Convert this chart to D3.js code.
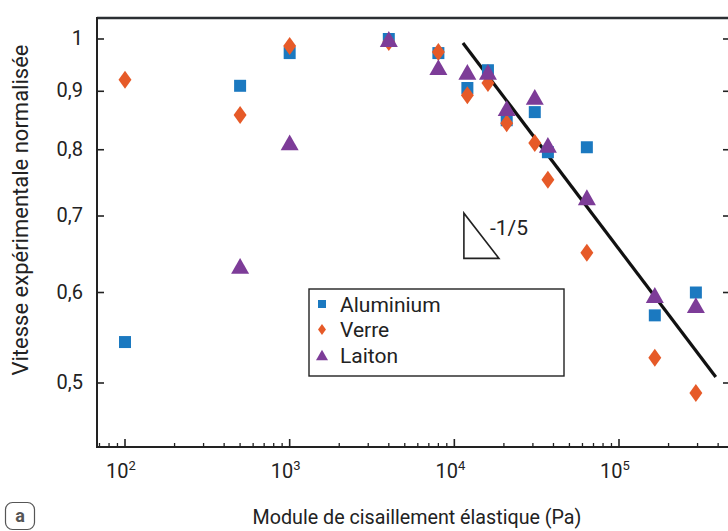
<!DOCTYPE html>
<html>
<head>
<meta charset="utf-8">
<script src="https://cdn.jsdelivr.net/npm/d3@7"></script>
<style>
  body { margin: 0; background: #fff; }
  text { font-family: Roboto, "Noto Sans", sans-serif; fill: #222; }
</style>
</head>
<body>
<svg id="chart" width="728" height="531"></svg>
<script>
"use strict";

// data (x: shear modulus in Pa, y: normalised velocity)
var aluX = [100, 500, 1000, 4000, 8000, 12000, 16000, 20800, 30800, 37000, 63800, 165000, 293000];
var aluY = [0.543, 0.910, 0.972, 1.0, 0.972, 0.906, 0.939, 0.849, 0.863, 0.796, 0.804, 0.573, 0.600];

var verX = [100, 500, 1000, 4000, 8000, 12000, 16000, 20800, 30800, 37000, 63800, 165000, 293000];
var verY = [0.921, 0.858, 0.986, 0.994, 0.974, 0.893, 0.915, 0.844, 0.811, 0.753, 0.650, 0.526, 0.490];

var laiX = [500, 1000, 4000, 8000, 12000, 16000, 20800, 30800, 37000, 63800, 165000, 293000];
var laiY = [0.633, 0.812, 1.0, 0.945, 0.936, 0.936, 0.870, 0.890, 0.808, 0.727, 0.597, 0.585];

// -1/5 power-law guide
var fitX = [11280, 387000];
var fitY = [0.992, 0.506];

// slope triangle (data space)
var slopeX = [11430, 11430, 18660];
var slopeY = [0.704, 0.6427, 0.6427];

var seriesNames = ["Aluminium", "Verre", "Laiton"];
var seriesColors = ["#1b79c0", "#e65a28", "#7d3c98"];
var xMajor = [1e2, 1e3, 1e4, 1e5];
var yTicks = [0.5, 0.6, 0.7, 0.8, 0.9, 1];
var yTickLabels = ["0,5", "0,6", "0,7", "0,8", "0,9", "1"];

var svg = d3.select("#chart");

var plotLeft = 97, plotRight = 729, plotTop = 18, plotBottom = 447;

var x = d3.scaleLog().domain([67.6, 465600]).range([plotLeft, plotRight]);
var y = d3.scaleLog().domain([0.4395, 1.0432]).range([plotBottom, plotTop]);

// marker shapes
function shape(kind, s) {
  if (kind == "square") {
    var h = s / 2;
    return "M" + (-h) + "," + (-h) + "H" + h + "V" + h + "H" + (-h) + "Z";
  }
  if (kind == "diamond") {
    var w = s * 0.36, t = s * 0.5;
    return "M0," + (-t) + "L" + w + ",0L0," + t + "L" + (-w) + ",0Z";
  }
  var hw = s / 2, hh = s * 0.44;
  return "M0," + (-hh) + "L" + hw + "," + hh + "L" + (-hw) + "," + hh + "Z";
}

var series = [
  { name: seriesNames[0], xs: aluX, ys: aluY, kind: "square", size: 12, color: seriesColors[0] },
  { name: seriesNames[1], xs: verX, ys: verY, kind: "diamond", size: 18, color: seriesColors[1] },
  { name: seriesNames[2], xs: laiX, ys: laiY, kind: "triangle", size: 18, color: seriesColors[2] }
];

// frame
svg.append("line").attr("x1", plotLeft).attr("x2", 728).attr("y1", plotTop).attr("y2", plotTop)
  .attr("stroke", "#2b2f33").attr("stroke-width", 2.5);
svg.append("line").attr("x1", plotLeft).attr("x2", plotLeft).attr("y1", plotTop - 1).attr("y2", plotBottom)
  .attr("stroke", "#222").attr("stroke-width", 2);
svg.append("line").attr("x1", plotLeft - 1).attr("x2", 728).attr("y1", plotBottom).attr("y2", plotBottom)
  .attr("stroke", "#222").attr("stroke-width", 2);

// x ticks (major + minor), pointing inward
var xMinor = [];
[10, 100, 1000, 10000, 100000].forEach(function(dec) {
  for (var k = 2; k <= 9; k++) {
    var v = dec * k;
    if (v >= x.domain()[0] && v <= x.domain()[1]) xMinor.push(v);
  }
});

svg.selectAll(".xminor").data(xMinor).enter().append("line")
  .attr("x1", function(d) { return x(d); }).attr("x2", function(d) { return x(d); })
  .attr("y1", plotBottom).attr("y2", plotBottom - 4)
  .attr("stroke", "#222").attr("stroke-width", 1.3);

svg.selectAll(".xmajor").data(xMajor).enter().append("line")
  .attr("x1", function(d) { return x(d); }).attr("x2", function(d) { return x(d); })
  .attr("y1", plotBottom).attr("y2", plotBottom - 8)
  .attr("stroke", "#222").attr("stroke-width", 1.6);

var xl = svg.selectAll(".xlab").data(xMajor).enter().append("text")
  .attr("x", function(d) { return x(d) - 4; })
  .attr("y", 478)
  .attr("text-anchor", "middle")
  .style("font-size", "20px");
xl.append("tspan").text("10");
xl.append("tspan").attr("dy", -8).style("font-size", "13px")
  .text(function(d) { return Math.round(Math.log10(d)); });

// y ticks left + right
svg.selectAll(".yl").data(yTicks).enter().append("line")
  .attr("x1", plotLeft).attr("x2", plotLeft + 7)
  .attr("y1", function(d) { return y(d); }).attr("y2", function(d) { return y(d); })
  .attr("stroke", "#222").attr("stroke-width", 1.6);
svg.selectAll(".yr").data(yTicks).enter().append("line")
  .attr("x1", plotRight - 6).attr("x2", plotRight)
  .attr("y1", function(d) { return y(d); }).attr("y2", function(d) { return y(d); })
  .attr("stroke", "#222").attr("stroke-width", 1.6);

svg.selectAll(".ylab").data(yTicks).enter().append("text")
  .attr("x", 83)
  .attr("y", function(d) { return y(d) + 6; })
  .attr("text-anchor", "end")
  .style("font-size", "20px")
  .text(function(d, i) { return yTickLabels[i]; });

// axis titles
svg.append("text")
  .attr("transform", "translate(28,210) rotate(-90)")
  .attr("text-anchor", "middle")
  .style("font-size", "22px")
  .text("Vitesse expérimentale normalisée");

svg.append("text")
  .attr("x", 417).attr("y", 524)
  .attr("text-anchor", "middle")
  .style("font-size", "19.7px")
  .text("Module de cisaillement élastique (Pa)");

// panel label
svg.append("rect").attr("x", 5.5).attr("y", 502.5).attr("width", 29).attr("height", 27)
  .attr("rx", 7).attr("fill", "none").attr("stroke", "#555").attr("stroke-width", 1.2);
svg.append("text").attr("x", 20).attr("y", 522).attr("text-anchor", "middle")
  .style("font-size", "18px").style("font-weight", "bold").style("fill", "#555").text("a");

// fit line
svg.append("line")
  .attr("x1", x(fitX[0])).attr("y1", y(fitY[0]))
  .attr("x2", x(fitX[1])).attr("y2", y(fitY[1]))
  .attr("stroke", "#111").attr("stroke-width", 3.2);

// slope triangle
svg.append("path")
  .attr("d", d3.line()(slopeX.map(function(d, i) { return [x(d), y(slopeY[i])]; })) + "Z")
  .attr("fill", "none").attr("stroke", "#222").attr("stroke-width", 1.6);
svg.append("text")
  .attr("x", x(slopeX[0]) + 26).attr("y", y(slopeY[0]) + 22)
  .style("font-size", "21px").text("-1/5");

// points
series.forEach(function(s) {
  svg.selectAll(".pt-" + s.kind).data(s.xs).enter().append("path")
    .attr("d", shape(s.kind, s.size))
    .attr("transform", function(d, i) { return "translate(" + x(d) + "," + y(s.ys[i]) + ")"; })
    .attr("fill", s.color);
});

// legend
var lg = svg.append("g").attr("transform", "translate(309,289)");
lg.append("rect").attr("width", 255).attr("height", 87)
  .attr("fill", "#fff").attr("stroke", "#222").attr("stroke-width", 1.4);
var legendSizes = [8, 11, 12];
series.forEach(function(s, i) {
  var cy = 15 + i * 25.5;
  lg.append("path").attr("d", shape(s.kind, legendSizes[i]))
    .attr("transform", "translate(13," + cy + ")").attr("fill", s.color);
  lg.append("text").attr("x", 31).attr("y", cy + 7.5)
    .style("font-size", "21px").text(s.name);
});
</script>
</body>
</html>
